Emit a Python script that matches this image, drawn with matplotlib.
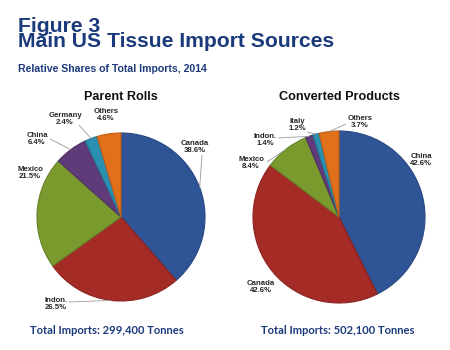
import numpy as np
import matplotlib
matplotlib.use("Agg")
import matplotlib.pyplot as plt

# ---- data ----
left_labels = ["Canada", "Indon.", "Mexico", "China", "Germany", "Others"]
left_values = [38.6, 26.5, 21.5, 6.4, 2.4, 4.6]
right_labels = ["China", "Canada", "Mexico", "Indon.", "Italy", "Others"]
right_values = [42.6, 42.6, 8.4, 1.4, 1.2, 3.7]
left_total = "Total Imports: 299,400 Tonnes"
right_total = "Total Imports: 502,100 Tonnes"

colors = ["#2F5597", "#A52B26", "#7A9A2E", "#5F3B7A", "#2A8FB0", "#E0711A"]
edges = ["#26467F", "#8A2320", "#66822A", "#4E3066", "#237894", "#C05F15"]
navy = "#1B3A7B"

W, H = 450, 350
fig = plt.figure(figsize=(4.5, 3.5), dpi=100)
ax = fig.add_axes([0, 0, 1, 1])

def Y(y):
    return H - y

font = "Liberation Sans"

fig.text(18 / W, 1 - 47 / H, "Figure 3\nMain US Tissue Import Sources",
         fontsize=15.2, fontweight="bold", color=navy, family=font,
         va="baseline", linespacing=0.72)
fig.text(18 / W, 1 - 72 / H, "Relative Shares of Total Imports, 2014",
         fontsize=7.6, fontweight="bold", color=navy, family=font, va="baseline")


def draw_pie(values, labels, center, radius, title, total, total_x, label_pos, leaders):
    wedges, _ = ax.pie(values, colors=colors, startangle=90, counterclock=False,
                       center=center, radius=radius, normalize=True,
                       wedgeprops=dict(linewidth=0.8))
    for w, ec in zip(wedges, edges):
        w.set_edgecolor(ec)
    ax.text(center[0], Y(100), title, ha="center", va="baseline",
            fontsize=9.1, fontweight="bold", family=font, color="#111111")
    ax.text(total_x, Y(334), total, ha="center", va="baseline",
            fontsize=8, fontweight="bold", family="Lato", color=navy)
    for i, (w, lab, val) in enumerate(zip(wedges, labels, values)):
        lx, ly = label_pos[i]
        ax.text(lx, Y(ly), f"{lab}\n{val:.1f}%", ha="center", va="center",
                fontsize=5.6, fontweight="bold", family=font, color="#262626",
                linespacing=1.05)
        if leaders[i] is not None:
            sx, sy = leaders[i]
            ang = np.deg2rad((w.theta1 + w.theta2) / 2)
            ex = center[0] + radius * np.cos(ang)
            ey = center[1] + radius * np.sin(ang)
            ax.plot([sx, ex], [Y(sy), ey], color="#9A9A9A", lw=0.6,
                    solid_capstyle="butt")

draw_pie(left_values, left_labels, (121, Y(217)), 84, "Parent Rolls", left_total, 107,
         [(195, 147), (56, 304), (30, 173), (37, 139), (65, 119), (106, 115)],
         [(202, 155), (69, 302), None, (50, 139), (79, 125), None])

draw_pie(right_values, right_labels, (339, Y(217)), 86, "Converted Products", right_total, 338,
         [(421, 160), (261, 287), (251, 163), (265, 140), (297, 125), (360, 122)],
         [None, None, (267, 162), (278, 138), (307, 132), (346, 124)])

ax.set_xlim(0, W)
ax.set_ylim(0, H)
ax.set_aspect("auto")
ax.axis("off")

fig.savefig("out.png", dpi=100)
